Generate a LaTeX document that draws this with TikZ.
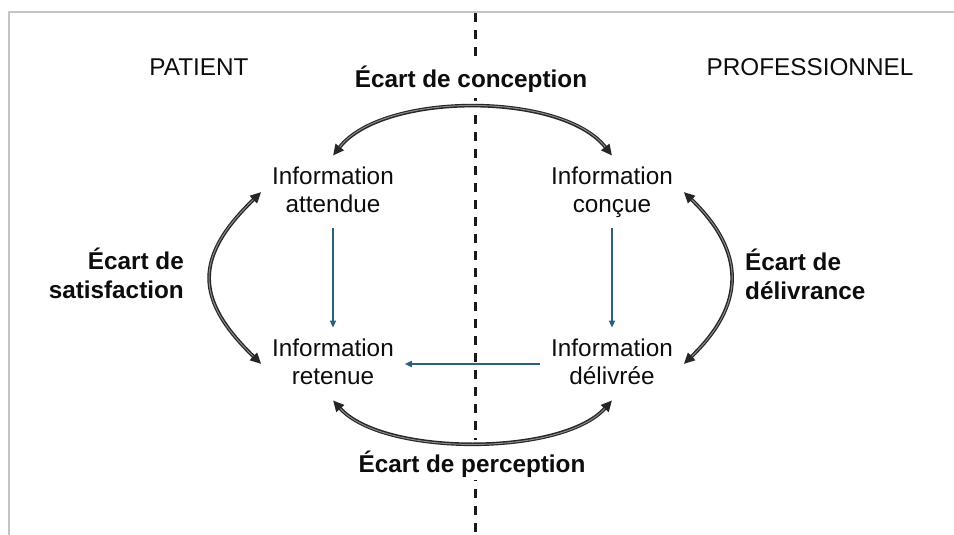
\documentclass[tikz,border=0pt]{standalone}
\usepackage{fontspec}
\setmainfont{Liberation Sans}
\usetikzlibrary{arrows.meta,calc}
\definecolor{flowblue}{HTML}{2C607E}
\definecolor{framegray}{HTML}{C4C4C8}
\begin{document}
\begin{tikzpicture}[x=1pt,y=-1pt,
  every node/.style={font=\fontsize{24.3}{28}\selectfont, text=black!95},
  info/.style={align=center, inner sep=3pt, outer sep=8pt},
  heading/.style={anchor=base, inner sep=0pt},
  gaplabel/.style={font=\fontsize{24.3}{29}\selectfont\bfseries, inner sep=0pt},
  flow/.style={draw=flowblue, line width=1.6pt, -{Triangle[length=7pt,width=6pt]}},
  gaparrow/.style={draw=black!85, line width=3.6pt,
    {Triangle[length=11pt,width=10pt]}-{Triangle[length=11pt,width=10pt]},
    preaction={draw=white, line width=9pt, shorten <=12pt, shorten >=12pt, arrows=-},
    postaction={draw=black!45, line width=1pt, shorten <=11pt, shorten >=11pt, arrows=-}},
  divider/.style={draw=black!90, line width=3pt, dash pattern=on 9pt off 8pt},
]
\useasboundingbox (0,0) rectangle (954,535);
% frame
\draw[framegray, line width=1.5pt] (9,535) -- (9,12) -- (954,12);
% divider
\coordinate (dtop) at (475,13);
\coordinate (dbot) at (475,535);
\draw[divider] (dtop) -- (dbot);

% headings
\node[heading] (patient) at (199,76) {PATIENT};
\node[heading] (pro) at (810,76) {PROFESSIONNEL};

% information nodes
\node[info] (att) at (333,192) {Information\\attendue\vphantom{ç}};
\node[info] (con) at (612,192) {Information\\conçue};
\node[info] (ret) at (333,364) {Information\\retenue\vphantom{ç}};
\node[info] (del) at (612,364) {Information\\délivrée\vphantom{ç}};

% flows
\draw[flow] (att) -- (ret);
\draw[flow] (con) -- (del);
\draw[flow] (del) -- (ret);

% gap arrows
\draw[gaparrow] (att.north) .. controls +(50,-64) and +(-50,-64) .. (con.north);
\draw[gaparrow] (ret.south) .. controls +(50,56) and +(-50,56) .. (del.south);
\draw[gaparrow] (att.west) .. controls +(-67,65) and +(-67,-65) .. (ret.west);
\draw[gaparrow] (con.east) .. controls +(62,60) and +(62,-60) .. (del.east);

% gap labels
\node[gaplabel, anchor=base, fill=white, inner sep=3pt] (conception) at (471,88) {Écart de conception};
\node[gaplabel, anchor=base, fill=white, inner sep=3pt] (perception) at (472,472) {Écart de perception};
\node[gaplabel, align=right, anchor=east] (satisfaction) at (184,273) {Écart de\\satisfaction};
\node[gaplabel, align=left, anchor=west] (delivrance) at (745,274) {Écart de\\délivrance};
\end{tikzpicture}
\end{document}
